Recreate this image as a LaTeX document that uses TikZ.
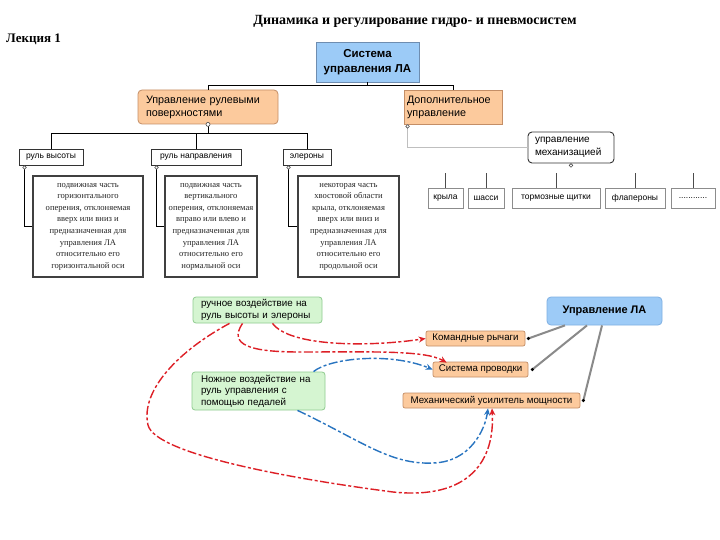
\documentclass[tikz,border=0pt]{standalone}
\usepackage{fontspec}
\setmainfont{Liberation Serif}
\setsansfont{Liberation Sans}
\usetikzlibrary{arrows.meta}
\definecolor{topfill}{HTML}{9CCBF7}
\definecolor{topbd}{HTML}{6E8DB0}
\definecolor{orfill}{HTML}{FCCA9D}
\definecolor{orbd}{HTML}{C48E66}
\definecolor{grfill}{HTML}{D5F5D1}
\definecolor{grbd}{HTML}{90CC90}
\definecolor{ulafill}{HTML}{9DCBF7}
\definecolor{ulabd}{HTML}{7FB0E3}
\definecolor{arred}{HTML}{DD1F26}
\definecolor{arblue}{HTML}{2874C0}
\definecolor{glink}{HTML}{8A8A8A}
\tikzset{
  every node/.style={inner sep=0pt, font=\sffamily},
  topbox/.style={draw=topbd, fill=topfill, line width=0.9pt, align=center,
    font=\sffamily\bfseries\fontsize{11.5}{14.5}\selectfont},
  orbox/.style={draw=orbd, fill=orfill, line width=0.8pt, align=left,
    font=\sffamily\fontsize{10.8}{13}\selectfont},
  subbox/.style={draw=black!80, fill=white, line width=0.9pt,
    font=\sffamily\fontsize{8.5}{10}\selectfont},
  descbox/.style={draw=black!75, fill=white, line width=1.5pt, align=center,
    text=black!85, font=\rmfamily\fontsize{8.6}{11.6}\selectfont},
  mechbox/.style={draw=black!80, fill=white, line width=0.9pt, rounded corners=4pt,
    align=left, font=\sffamily\fontsize{10}{12.5}\selectfont},
  smallbox/.style={draw=black!45, fill=white, line width=0.6pt,
    font=\sffamily\fontsize{8.5}{10}\selectfont},
  grbox/.style={draw=grbd, fill=grfill, line width=0.8pt, rounded corners=3pt,
    align=left, font=\sffamily\fontsize{9.8}{11.5}\selectfont},
  ulabox/.style={draw=ulabd, fill=ulafill, line width=0.8pt, rounded corners=4pt,
    font=\sffamily\bfseries\fontsize{11}{13}\selectfont},
  obox/.style={draw=orbd, fill=orfill, line width=0.7pt, rounded corners=2pt,
    font=\sffamily\fontsize{9.7}{11}\selectfont},
  tree/.style={draw=black, line width=1pt},
  ltree/.style={draw=black!25, line width=1pt},
  knob/.style={draw=black!70, fill=white, line width=0.6pt},
  glinkst/.style={draw=glink, line width=2pt},
  dotst/.style={fill=black},
  rarr/.style={draw=arred, line width=1.4pt, dash pattern=on 9pt off 2.5pt on 3pt off 2.5pt,
    -{Stealth[length=7pt,width=6pt]}},
  barr/.style={draw=arblue, line width=1.4pt, dash pattern=on 9pt off 2.5pt on 3pt off 2.5pt,
    -{Stealth[length=7pt,width=6pt]}}
}
\begin{document}
\begin{tikzpicture}[x=1pt,y=-1pt]
\fill[white] (0,0) rectangle (720,540);
\path[use as bounding box] (0,0) rectangle (720,540);

% header
\node[font=\rmfamily\bfseries\fontsize{14}{16}\selectfont] (title) at (415,21) {Динамика и регулирование гидро- и пневмосистем};
\node[anchor=west, font=\rmfamily\bfseries\fontsize{13}{15}\selectfont] (lec) at (6,39) {Лекция 1};

% top tree
\node[topbox, minimum width=103pt, minimum height=40pt] (top) at (367.5,62) {Система\\управления ЛА};
\node[orbox, rounded corners=4pt, minimum height=34pt, text width=124pt, inner xsep=8pt] (upr) at (208,107) {Управление рулевыми\\поверхностями};
\node[orbox, minimum height=34pt, text width=92pt, inner xsep=3pt] (dop) at (453,107) {Дополнительное\\управление};

\coordinate (ht) at (367.5,86);
\draw[tree] (top.south) -- (ht) -| (upr.north);
\draw[tree] (ht) -| (dop.north);

\node[subbox, minimum width=64pt, minimum height=16pt] (rv) at (51,157) {руль высоты};
\node[subbox, minimum width=90pt, minimum height=16pt] (rn) at (196,157) {руль направления};
\node[subbox, minimum width=48pt, minimum height=16pt] (el) at (307,157) {элероны};

\coordinate (hb) at (208,134);
\draw[tree] (upr.south) -- (hb) -| (rv.north);
\draw[tree] (hb) -| (rn.north);
\draw[tree] (hb) -| (el.north);
\draw[knob] (upr.south) circle (2pt);

\node[descbox, minimum width=110pt, minimum height=101pt] (d1) at (88,226.5) {подвижная часть\\горизонтального\\оперения, отклоняемая\\вверх или вниз и\\предназначенная для\\управления ЛА\\относительно его\\горизонтальной оси};
\node[descbox, minimum width=92pt, minimum height=101pt] (d2) at (211,226.5) {подвижная часть\\вертикального\\оперения, отклоняемая\\вправо или влево и\\предназначенная для\\управления ЛА\\относительно его\\нормальной оси};
\node[descbox, minimum width=101pt, minimum height=101pt] (d3) at (348.5,226.5) {некоторая часть\\хвостовой области\\крыла, отклоняемая\\вверх или вниз и\\предназначенная для\\управления ЛА\\относительно его\\продольной оси};

\draw[tree] ([xshift=6pt]rv.south west) |- (d1.west);
\draw[tree] ([xshift=6pt]rn.south west) |- (d2.west);
\draw[tree] ([xshift=6pt]el.south west) |- (d3.west);
\draw[knob] ([xshift=6pt,yshift=-2pt]rv.south west) circle (1.8pt);
\draw[knob] ([xshift=6pt,yshift=-2pt]rn.south west) circle (1.8pt);
\draw[knob] ([xshift=6pt,yshift=-2pt]el.south west) circle (1.8pt);

% mechanization
\node[mechbox, minimum height=31pt, text width=72pt, inner xsep=7pt] (mech) at (571,147.5) {управление\\механизацией};
\draw[ltree] ([xshift=4pt]dop.south west) |- (mech.west);
\draw[knob] ([xshift=4pt,yshift=-2pt]dop.south west) circle (1.8pt);
\draw[knob] ([yshift=-2pt]mech.south) circle (1.8pt);

\node[smallbox, minimum width=35pt, minimum height=20pt] (k1) at (445.5,198) {крыла};
\node[smallbox, minimum width=36pt, minimum height=20pt] (k2) at (486,198) {шасси};
\node[smallbox, minimum width=88pt, minimum height=20pt] (k3) at (556,198) {тормозные щитки};
\node[smallbox, minimum width=60pt, minimum height=20pt] (k4) at (635,198) {флапероны};
\node[smallbox, minimum width=44pt, minimum height=20pt] (k5) at (693,198) {............};
\foreach \k in {k1,k2,k3,k4,k5}{
  \draw[draw=black!70, line width=0.8pt] (\k.north) -- ++(0,-15);
}

% lower part
\node[grbox, minimum height=26pt, text width=113pt, inner xsep=8pt] (ruch) at (257.5,310) {ручное воздействие на\\руль высоты и элероны};
\node[grbox, minimum height=38pt, text width=115pt, inner xsep=9pt] (nozh) at (258.5,391) {Ножное воздействие на\\руль управления с\\помощью педалей};
\node[ulabox, minimum width=115pt, minimum height=28pt] (ula) at (604.5,311) {Управление ЛА};

\node[obox, minimum width=99pt, minimum height=15pt] (kom) at (475.5,338.5) {Командные рычаги};
\node[obox, minimum width=95pt, minimum height=15pt] (sis) at (480.5,369.5) {Система проводки};
\node[obox, minimum width=177pt, minimum height=15pt] (meh) at (491.5,400.5) {Механический усилитель мощности};

\coordinate (dk) at ([xshift=3pt]kom.east);
\coordinate (ds) at ([xshift=4pt]sis.east);
\coordinate (dm) at ([xshift=3pt]meh.east);
\draw[glinkst] ([xshift=-39.5pt]ula.south) -- (dk);
\draw[glinkst] ([xshift=-17.5pt]ula.south) -- (ds);
\draw[glinkst] ([xshift=-2.5pt]ula.south) -- (dm);
\fill[dotst] (dk) circle (1.8pt);
\fill[dotst] (ds) circle (1.8pt);
\fill[dotst] (dm) circle (1.8pt);

% arrows
\draw[rarr] ([xshift=15pt]ruch.south) .. controls (290,347) and (370,347) .. (kom.west);
\draw[rarr] ([xshift=-15pt]ruch.south) .. controls (228,345) and (250,352) .. (300,352)
   .. controls (370,352) and (425,350) .. ([xshift=14pt,yshift=-1pt]sis.north west);
\draw[rarr] ([xshift=-28pt]ruch.south) .. controls (180,350) and (140,390) .. (148,425)
   .. controls (155,455) and (300,480) .. (393,492)
   .. controls (470,500) and (495,460) .. ([xshift=0.5pt]meh.south);
\draw[barr] ([xshift=55pt]nozh.north) .. controls (330,358) and (390,352) .. (sis.west);
\draw[barr] ([xshift=39pt]nozh.south) .. controls (360,440) and (390,465) .. (433,463)
   .. controls (470,462) and (485,430) .. ([xshift=-3.5pt]meh.south);
\end{tikzpicture}
\end{document}
